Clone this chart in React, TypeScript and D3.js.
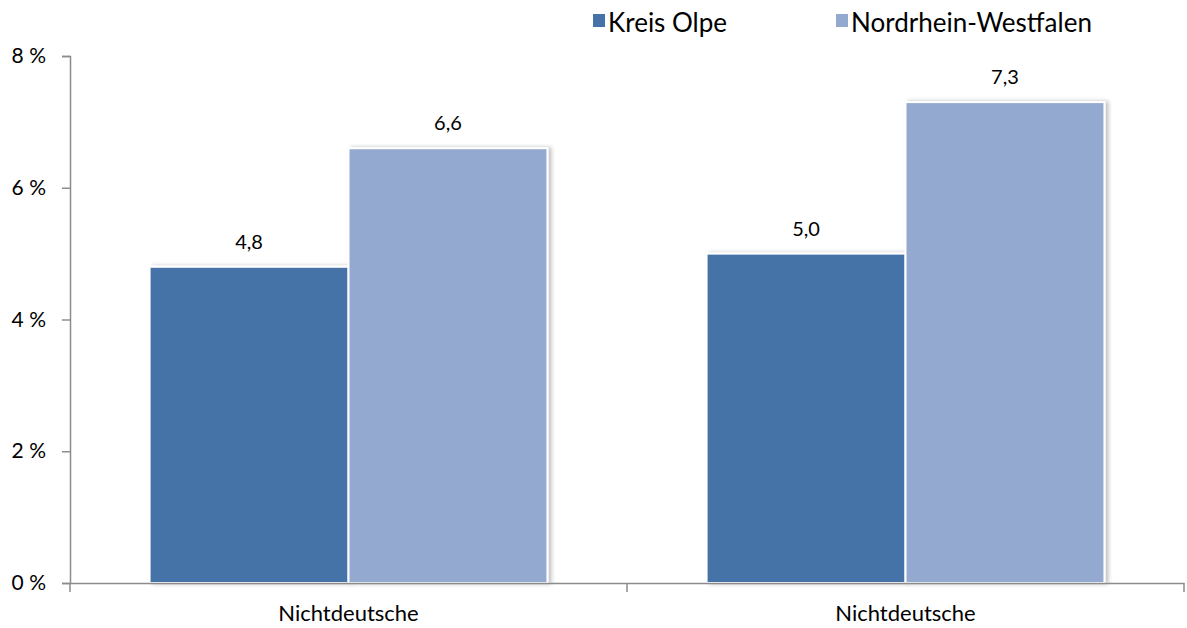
import React, { useEffect, useRef } from 'react'
import * as d3 from 'd3'

const categories = ['Nichtdeutsche', 'Nichtdeutsche ']
const seriesNames = ['Kreis Olpe', 'Nordrhein-Westfalen']
const kreisOlpe = [4.8, 5.0]
const nrw = [6.6, 7.3]
const yTicks = [0, 2, 4, 6, 8]
const colors = ['#4573A7', '#94A9D0']

export default function App() {
  const svgRef = useRef<SVGSVGElement | null>(null)
  const width = 1187
  const height = 628
  const marginLeft = 70
  const marginRight = 3
  const marginTop = 56
  const marginBottom = 45

  useEffect(() => {
    const svg = d3.select(svgRef.current)
    svg.selectAll('*').remove()
    const font = 'Lato, "Open Sans", sans-serif'

    const x = d3.scaleBand().domain(categories).range([marginLeft, width - marginRight]).paddingInner(0).paddingOuter(0)
    const x1 = d3.scaleBand().domain(seriesNames).range([0, x.bandwidth()]).paddingInner(0).paddingOuter(0.4)
    const y = d3.scaleLinear().domain([0, 8]).range([height - marginBottom, marginTop])

    const defs = svg.append('defs')
    const f = defs.append('filter').attr('id', 'sh').attr('x', '-10%').attr('y', '-10%').attr('width', '130%').attr('height', '130%')
    f.append('feGaussianBlur').attr('in', 'SourceAlpha').attr('stdDeviation', 2)
    f.append('feOffset').attr('dx', 3).attr('dy', 0).attr('result', 'b')
    f.append('feComponentTransfer').append('feFuncA').attr('type', 'linear').attr('slope', 0.25)
    const m = f.append('feMerge')
    m.append('feMergeNode')
    m.append('feMergeNode').attr('in', 'SourceGraphic')

    // y axis
    const yAxis = svg.append('g').attr('transform', `translate(${marginLeft},0)`)
      .call(d3.axisLeft(y).tickValues(yTicks).tickSize(8).tickPadding(16).tickFormat(d => `${d} %`))
    yAxis.select('.domain').attr('stroke', '#8c8c8c').attr('stroke-width', 1.5)
    yAxis.selectAll('.tick line').attr('stroke', '#8c8c8c').attr('stroke-width', 1.5)
    yAxis.selectAll('text').attr('font-family', font).attr('font-size', 21).attr('fill', '#000')

    const series = [kreisOlpe, nrw]
    const rows = categories.map((c, i) => ({ c, vals: series.map((s, j) => ({ name: seriesNames[j], v: s[i], j })) }))

    const g = svg.append('g')
      .selectAll('g')
      .data(rows)
      .join('g')
      .attr('transform', d => `translate(${x(d.c)},0)`)

    g.selectAll('rect')
      .data(d => d.vals)
      .join('rect')
      .attr('x', d => x1(d.name)!)
      .attr('y', d => y(d.v))
      .attr('width', x1.bandwidth())
      .attr('height', d => y(0) - y(d.v))
      .attr('fill', d => colors[d.j])
      .attr('stroke', '#fff')
      .attr('stroke-width', 2)
      .attr('filter', 'url(#sh)')

    g.selectAll('text')
      .data(d => d.vals)
      .join('text')
      .attr('x', d => x1(d.name)! + x1.bandwidth() / 2)
      .attr('y', d => y(d.v) - 18)
      .attr('text-anchor', 'middle')
      .attr('font-family', font)
      .attr('font-size', 20)
      .text(d => d3.format('.1f')(d.v).replace('.', ','))

    // x axis
    const xAxis = svg.append('g').attr('transform', `translate(0,${y(0)})`)
      .call(d3.axisBottom(x).tickSize(0).tickPadding(26))
    xAxis.select('.domain').attr('stroke', '#8c8c8c').attr('stroke-width', 1.5)
    xAxis.selectAll('text').attr('font-family', font).attr('font-size', 22).attr('fill', '#000').attr('dy', '0.55em')
    const bounds = [x(categories[0])!, x(categories[1])!, x(categories[1])! + x.bandwidth()]
    xAxis.selectAll('line.sep').data(bounds).join('line').attr('class', 'sep')
      .attr('x1', d => d).attr('x2', d => d).attr('y1', 0).attr('y2', 9)
      .attr('stroke', '#8c8c8c').attr('stroke-width', 1.5)

    // legend
    const legendX = [593, 836]
    const lg = svg.append('g').selectAll('g').data(seriesNames).join('g')
      .attr('transform', (_, i) => `translate(${legendX[i]},14)`)
    lg.append('rect').attr('width', 12).attr('height', 13).attr('fill', (_, i) => colors[i])
    lg.append('text').attr('x', 15).attr('y', 18).attr('font-family', font).attr('font-size', 26).text(d => d)
  }, [])

  return <svg ref={svgRef} width={width} height={height} style={{ position: 'absolute', left: 0, top: 0 }}></svg>
}
